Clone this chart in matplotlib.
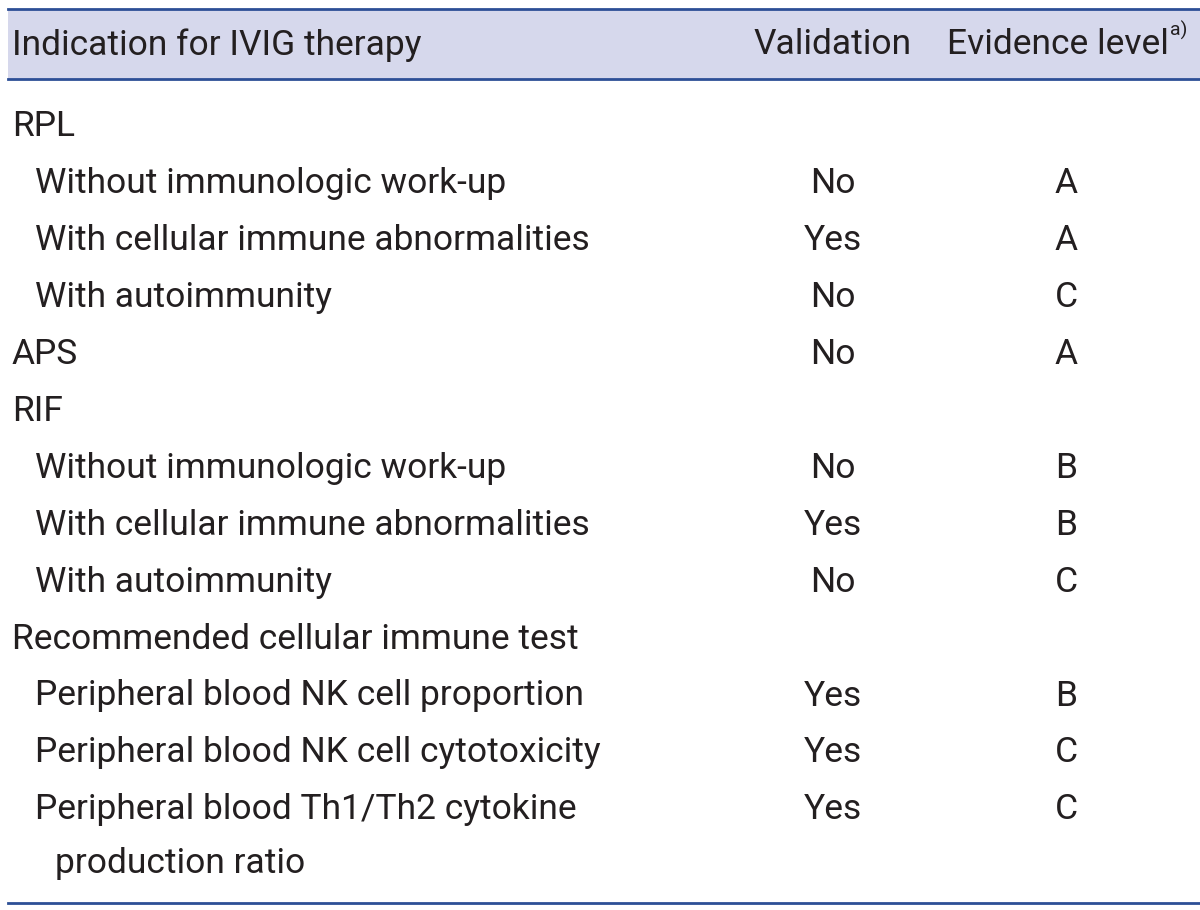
import matplotlib.pyplot as plt

# table content
labels = ["RPL", "Without immunologic work-up", "With cellular immune abnormalities",
          "With autoimmunity", "APS", "RIF", "Without immunologic work-up",
          "With cellular immune abnormalities", "With autoimmunity",
          "Recommended cellular immune test", "Peripheral blood NK cell proportion",
          "Peripheral blood NK cell cytotoxicity",
          "Peripheral blood Th1/Th2 cytokine"]
indent = [0, 1, 1, 1, 0, 0, 1, 1, 1, 0, 1, 1, 1]
validation = ["", "No", "Yes", "No", "No", "", "No", "Yes", "No", "", "Yes", "Yes", "Yes"]
evidence = ["", "A", "A", "C", "A", "", "B", "B", "C", "", "B", "C", "C"]
wrap_text = "production ratio"

FONT = "Roboto"
FS = 25.5
INK = "#231f20"
LINE = "#2d4f96"
BAND = "#d6d8ec"

fig = plt.figure(figsize=(12, 9.1), dpi=100)
ax = fig.add_axes([0, 0, 1, 1])
ax.set_xlim(0, 1200)
ax.set_ylim(910, 0)
ax.axis("off")

# header band and rules
ax.fill_between([8, 1200], 9, 79, color=BAND, lw=0)
ax.plot([8, 1200], [9, 9], color=LINE, lw=2)
ax.plot([8, 1200], [79, 79], color=LINE, lw=2)
ax.plot([8, 1200], [903, 903], color=LINE, lw=2)

ax.text(12, 45, "Indication for IVIG therapy", fontsize=FS, family=FONT,
        va="center", ha="left", color=INK)
ax.text(833, 45, "Validation", fontsize=FS, family=FONT, va="center", ha="center",
        color=INK)
t = ax.text(947, 45, "Evidence level", fontsize=FS, family=FONT,
            va="center", ha="left", color=INK)
fig.canvas.draw()
bb = t.get_window_extent()
ax.text(bb.x1 + 1, 40, "a)", fontsize=14, family=FONT, va="bottom", ha="left", color=INK)

y0 = 127
step = 56.9
for i, lab in enumerate(labels):
    y = y0 + i * step
    x = 12 + 23 * indent[i]
    ax.text(x, y, lab, fontsize=FS, family=FONT, va="center", ha="left", color=INK)
    ax.text(833, y, validation[i], fontsize=FS, family=FONT, va="center",
            ha="center", color=INK)
    ax.text(1066, y, evidence[i], fontsize=FS, family=FONT, va="center",
            ha="center", color=INK)
ax.text(55, y0 + len(labels) * step - 3, wrap_text, fontsize=FS, family=FONT,
        va="center", ha="left", color=INK)

fig.savefig("out.png", dpi=100, facecolor="white")
